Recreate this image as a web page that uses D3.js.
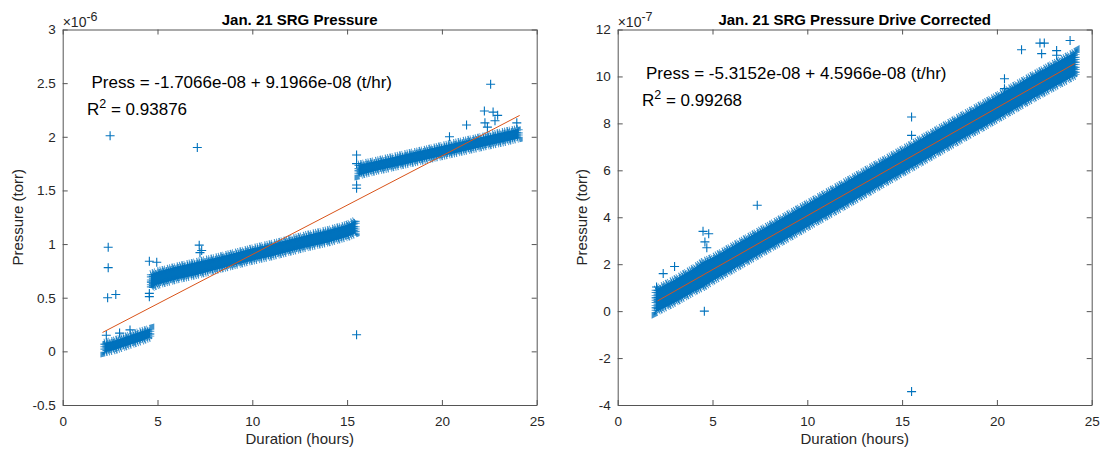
<!DOCTYPE html>
<html>
<head>
<meta charset="utf-8">
<script src="https://cdn.jsdelivr.net/npm/d3@7"></script>
<style>
  body { margin: 0; background: #fff; }
  svg { display: block; font-family: "Liberation Sans", Arial, sans-serif; }
</style>
</head>
<body>
<svg id="chart" width="1104" height="453"></svg>
<script>
// --- data ---
const durationTicks = [0, 5, 10, 15, 20, 25];
const rawTicks = [-0.5, 0, 0.5, 1, 1.5, 2, 2.5, 3];        // x 1e-6 torr
const corrTicks = [-4, -2, 0, 2, 4, 6, 8, 10, 12];          // x 1e-7 torr

// raw pressure: three dense bands (duration, low edge, high edge)
const rawBand1X  = [2.2, 2.7, 3.2, 3.7, 4.2, 4.62];
const rawBand1Lo = [-0.01, 0.01, 0.04, 0.07, 0.10, 0.13];
const rawBand1Hi = [0.08, 0.10, 0.13, 0.16, 0.19, 0.21];

const rawBand2X  = [4.65, 5.0, 6.0, 7.0, 8.0, 9.0, 10.0, 11.0, 12.0, 13.0, 14.0, 15.0, 15.45];
const rawBand2Lo = [0.59, 0.62, 0.67, 0.71, 0.755, 0.80, 0.845, 0.885, 0.93, 0.975, 1.015, 1.065, 1.10];
const rawBand2Hi = [0.72, 0.745, 0.79, 0.83, 0.87, 0.915, 0.96, 1.0, 1.045, 1.09, 1.13, 1.18, 1.22];

const rawBand3X  = [15.6, 16.5, 17.5, 18.5, 19.5, 20.5, 21.5, 22.5, 23.5, 24.05];
const rawBand3Lo = [1.64, 1.68, 1.72, 1.76, 1.80, 1.84, 1.88, 1.92, 1.96, 1.985];
const rawBand3Hi = [1.74, 1.775, 1.815, 1.855, 1.895, 1.935, 1.975, 2.015, 2.055, 2.075];

const rawOutX = [2.5, 2.4, 2.4, 2.37, 2.8, 4.57, 4.96, 4.57, 4.57, 7.2, 7.33, 7.24, 7.1, 15.5, 15.5, 15.5, 15.5, 15.5,
                 2.3, 3.0, 3.55, 20.4, 21.3, 22.24, 22.7, 22.94, 22.27, 22.8, 22.57, 23.95, 22.4];
const rawOutY = [2.01, 0.97, 0.78, 0.50, 0.53, 0.84, 0.83, 0.51, 0.54, 0.99, 0.94, 0.92, 1.90, 0.155, 1.83, 1.75, 1.55, 1.52,
                 0.15, 0.17, 0.20, 2.0, 2.11, 2.24, 2.23, 2.20, 2.13, 2.15, 2.49, 2.13, 2.09];

const rawFitX = [2.1, 24.1];
const rawFitY = [0.176, 2.199];

// drive corrected pressure: one dense band
const corrBandX  = [2.0, 3.0, 4.0, 4.5, 5.0, 6.0, 8.0, 10.0, 12.0, 14.0, 16.0, 18.0, 20.0, 22.0, 24.15];
const corrBandLo = [-0.05, 0.36, 0.82, 1.02, 1.28, 1.74, 2.66, 3.58, 4.5, 5.42, 6.34, 7.26, 8.17, 9.1, 10.05];
const corrBandHi = [0.92, 1.34, 1.82, 2.1, 2.28, 2.74, 3.66, 4.58, 5.5, 6.42, 7.34, 8.26, 9.17, 10.1, 11.05];

const corrOutX = [15.5, 4.57, 15.5, 15.5, 7.36, 21.3, 22.27, 22.5, 23.86, 22.36, 23.15, 23.15, 20.4, 20.4,
                  4.5, 4.8, 4.7, 4.6, 2.05, 2.4, 3.0];
const corrOutY = [-3.43, 0.0, 8.27, 7.49, 4.51, 11.14, 11.42, 11.42, 11.53, 10.97, 11.1, 10.9, 9.9, 9.48,
                  3.4, 3.3, 2.7, 2.95, 1.03, 1.6, 1.9];

const corrFitX = [2.1, 24.1];
const corrFitY = [0.434, 10.546];

const BLUE = '#0072BD';
const ORANGE = '#D95319';
const AXIS = '#262626';

const svg = d3.select('#chart');

const zip = (a, b, c) => a.map((v, i) => c ? [v, b[i], c[i]] : [v, b[i]]);

function drawPanel(p) {
  const top = 29.5, bottom = 405, width = 474;
  const x = d3.scaleLinear().domain([0, 25]).range([p.left, p.left + width]);
  const y = d3.scaleLinear().domain(p.yDomain).range([bottom, top]);

  const g = svg.append('g');

  // dense bands: filled envelope, uneven dashed stroke gives the fuzzy marker edge
  const area = d3.area().x(d => x(d[0])).y0(d => y(d[1])).y1(d => y(d[2]));
  p.bands.forEach(b => {
    g.append('path')
      .datum(zip(b[0], b[1], b[2]))
      .attr('d', area)
      .attr('fill', BLUE)
      .attr('stroke', BLUE)
      .attr('stroke-width', 8)
      .attr('stroke-dasharray', '1 1.3 1.6 0.9 0.8 2.1 1.2 1.1')
      .attr('stroke-opacity', 0.75);
    g.append('path')
      .datum(zip(b[0], b[1], b[2]))
      .attr('d', area)
      .attr('fill', 'none')
      .attr('stroke', BLUE)
      .attr('stroke-width', 4)
      .attr('stroke-dasharray', '0.9 0.7 1.4 0.6')
      .attr('stroke-opacity', 0.85);
  });

  // stray points as '+' markers
  g.selectAll('.out')
    .data(zip(p.outX, p.outY))
    .enter()
    .append('path')
    .attr('class', 'out')
    .attr('transform', d => `translate(${x(d[0])},${y(d[1])})`)
    .attr('d', 'M-4.5,0H4.5M0,-4.5V4.5')
    .attr('stroke', BLUE)
    .attr('stroke-width', 1.1)
    .attr('fill', 'none');

  // fit line
  g.append('path')
    .datum(zip(p.fitX, p.fitY))
    .attr('d', d3.line().x(d => x(d[0])).y(d => y(d[1])))
    .attr('stroke', ORANGE)
    .attr('stroke-width', 1)
    .attr('fill', 'none');

  // box with inward ticks on all four sides
  const fmt = d => String(d);
  const styleAxis = sel => {
    sel.selectAll('path.domain').attr('stroke', '#555').attr('stroke-width', 1);
    sel.selectAll('.tick line').attr('stroke', '#555');
    sel.selectAll('text').attr('fill', AXIS).style('font-size', '13.5px')
      .style('font-family', '"Liberation Sans", Arial, sans-serif');
  };
  g.append('g').attr('transform', `translate(0,${bottom})`)
    .call(d3.axisBottom(x).tickValues(durationTicks).tickFormat(fmt).tickSizeInner(-5).tickSizeOuter(0).tickPadding(11))
    .call(styleAxis);
  g.append('g').attr('transform', `translate(0,${top})`)
    .call(d3.axisTop(x).tickValues(durationTicks).tickFormat('').tickSizeInner(-5).tickSizeOuter(0))
    .call(styleAxis);
  g.append('g').attr('transform', `translate(${p.left},0)`)
    .call(d3.axisLeft(y).tickValues(p.yTicks).tickFormat(fmt).tickSizeInner(-5).tickSizeOuter(0).tickPadding(7))
    .call(styleAxis);
  g.append('g').attr('transform', `translate(${p.left + width},0)`)
    .call(d3.axisRight(y).tickValues(p.yTicks).tickFormat('').tickSizeInner(-5).tickSizeOuter(0))
    .call(styleAxis);
  g.selectAll('.domain').attr('fill', 'none');

  // exponent label
  const ex = g.append('text').attr('x', p.left).attr('y', 26.5)
    .attr('fill', AXIS).style('font-size', '14px');
  ex.append('tspan').text('\u00d710');
  ex.append('tspan').attr('dy', -6).style('font-size', '12.5px').text(p.exponent);

  // title
  g.append('text')
    .attr('x', p.left + width / 2).attr('y', 25)
    .attr('text-anchor', 'middle')
    .style('font-size', '15px').style('font-weight', 'bold')
    .attr('fill', '#000')
    .text(p.title);

  // axis labels
  g.append('text')
    .attr('x', p.left + width / 2).attr('y', 444)
    .attr('text-anchor', 'middle')
    .style('font-size', '15px').attr('fill', AXIS)
    .text('Duration (hours)');
  g.append('text')
    .attr('transform', `translate(${p.yLabelX},${(top + bottom) / 2}) rotate(-90)`)
    .attr('text-anchor', 'middle')
    .style('font-size', '15px').attr('fill', AXIS)
    .text('Pressure (torr)');

  // fit equation
  g.append('text')
    .attr('x', p.eqPos[0]).attr('y', p.eqPos[1])
    .style('font-size', '17px').attr('fill', '#000')
    .text(p.eqText);
  const r2 = g.append('text')
    .attr('x', p.r2Pos[0]).attr('y', p.r2Pos[1])
    .style('font-size', '17px').attr('fill', '#000');
  r2.append('tspan').text('R');
  r2.append('tspan').attr('dy', -7).style('font-size', '12.5px').text('2');
  r2.append('tspan').attr('dy', 7).text(' = ' + p.r2Text);
}

drawPanel({
  left: 62.7,
  title: 'Jan. 21 SRG Pressure',
  yDomain: [-0.5, 3],
  yTicks: rawTicks,
  exponent: '-6',
  bands: [[rawBand1X, rawBand1Lo, rawBand1Hi], [rawBand2X, rawBand2Lo, rawBand2Hi], [rawBand3X, rawBand3Lo, rawBand3Hi]],
  outX: rawOutX, outY: rawOutY,
  fitX: rawFitX, fitY: rawFitY,
  eqText: 'Press = -1.7066e-08 + 9.1966e-08 (t/hr)',
  r2Text: '0.93876',
  eqPos: [91.5, 87.5],
  r2Pos: [87, 114.5],
  yLabelX: 23
});

drawPanel({
  left: 617.7,
  title: 'Jan. 21 SRG Pressure Drive Corrected',
  yDomain: [-4, 12],
  yTicks: corrTicks,
  exponent: '-7',
  bands: [[corrBandX, corrBandLo, corrBandHi]],
  outX: corrOutX, outY: corrOutY,
  fitX: corrFitX, fitY: corrFitY,
  eqText: 'Press = -5.3152e-08 + 4.5966e-08 (t/hr)',
  r2Text: '0.99268',
  eqPos: [646, 79],
  r2Pos: [642, 106],
  yLabelX: 587
});
</script>
</body>
</html>
